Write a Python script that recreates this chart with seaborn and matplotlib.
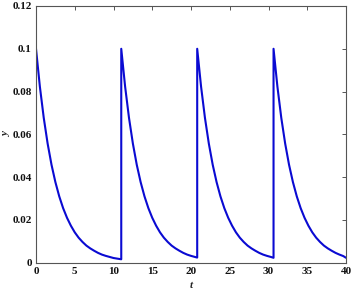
import numpy as np
import pandas as pd
import seaborn as sns
import matplotlib.pyplot as plt

# values (four decay phases with resets)
t_seg1 = [0.0, 0.5, 1.0, 1.5, 2.0, 2.5, 3.0, 3.5, 4.0, 4.5, 5.0, 5.5, 6.0,
          6.5, 7.0, 7.5, 8.0, 8.5, 9.0, 9.5, 10.0, 10.5, 11.0]
y_seg1 = [0.1000, 0.0823, 0.0677, 0.0557, 0.0458, 0.0377, 0.0310, 0.0255,
          0.0210, 0.0173, 0.0142, 0.0117, 0.0097, 0.0080, 0.0067, 0.0056,
          0.0046, 0.0038, 0.0032, 0.0027, 0.0022, 0.0019, 0.0016]

t_seg2 = [11.0, 11.5, 12.0, 12.5, 13.0, 13.5, 14.0, 14.5, 15.0, 15.5, 16.0,
          16.5, 17.0, 17.5, 18.0, 18.5, 19.0, 19.5, 20.0, 20.5, 20.8]
y_seg2 = [0.1000, 0.0823, 0.0677, 0.0557, 0.0458, 0.0377, 0.0310, 0.0255,
          0.0210, 0.0173, 0.0142, 0.0117, 0.0097, 0.0080, 0.0067, 0.0056,
          0.0046, 0.0038, 0.0032, 0.0027, 0.0024]

t_seg3 = [20.8, 21.3, 21.8, 22.3, 22.8, 23.3, 23.8, 24.3, 24.8, 25.3, 25.8,
          26.3, 26.8, 27.3, 27.8, 28.3, 28.8, 29.3, 29.8, 30.3, 30.65]
y_seg3 = [0.1000, 0.0823, 0.0677, 0.0557, 0.0458, 0.0377, 0.0310, 0.0255,
          0.0210, 0.0173, 0.0142, 0.0117, 0.0097, 0.0080, 0.0067, 0.0056,
          0.0046, 0.0038, 0.0032, 0.0027, 0.0023]

t_seg4 = [30.65, 31.15, 31.65, 32.15, 32.65, 33.15, 33.65, 34.15, 34.65,
          35.15, 35.65, 36.15, 36.65, 37.15, 37.65, 38.15, 38.65, 39.15,
          39.65, 40.0]
y_seg4 = [0.1000, 0.0823, 0.0677, 0.0557, 0.0458, 0.0377, 0.0310, 0.0255,
          0.0210, 0.0173, 0.0142, 0.0117, 0.0097, 0.0080, 0.0067, 0.0056,
          0.0046, 0.0038, 0.0031, 0.0023]

x_ticks = [0, 5, 10, 15, 20, 25, 30, 35, 40]
y_ticks = [0, 0.02, 0.04, 0.06, 0.08, 0.1, 0.12]
y_tick_labels = ["0", "0.02", "0.04", "0.06", "0.08", "0.1", "0.12"]


def main():
    df = pd.DataFrame({
        "t": t_seg1 + t_seg2 + t_seg3 + t_seg4,
        "y": y_seg1 + y_seg2 + y_seg3 + y_seg4,
    })

    sns.set_style("white")
    plt.rcParams["font.family"] = ["Liberation Serif", "DejaVu Serif"]

    fig = plt.figure(figsize=(3.54, 2.92), dpi=100)
    ax = fig.add_axes([0.1017, 0.1003, 0.8757, 0.8792])

    sns.lineplot(data=df, x="t", y="y", sort=False, estimator=None,
                 color="#0a0ad2", linewidth=1.5, ax=ax)

    ax.set_xlim(0, 40)
    ax.set_ylim(0, 0.12)
    ax.set_xticks(x_ticks)
    ax.set_xticklabels([str(v) for v in x_ticks], fontweight="bold")
    ax.set_yticks(y_ticks)
    ax.set_yticklabels(y_tick_labels, fontweight="bold")
    ax.tick_params(direction="in", length=3, width=0.7, colors="#555555",
                   top=True, right=True, labelsize=8, labelcolor="#111111",
                   pad=3)
    for s in ax.spines.values():
        s.set_color("#555555")
        s.set_linewidth(0.8)

    ax.set_xlabel("t", fontstyle="italic", fontweight="bold", fontsize=8)
    ax.set_ylabel("y", fontstyle="italic", fontweight="bold", fontsize=8)
    ax.xaxis.set_label_coords(0.5, -0.07)
    ax.yaxis.set_label_coords(-0.08, 0.5)

    fig.savefig("out.png", dpi=100)


if __name__ == "__main__":
    main()
